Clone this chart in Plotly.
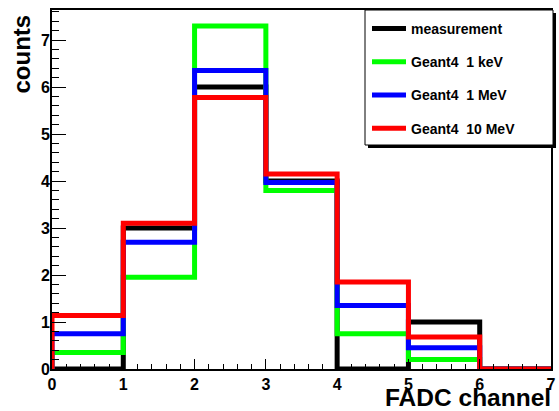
import plotly.graph_objects as go

# FADC channel bins (edges 0..7)
bin_edges = [0, 1, 2, 3, 4, 5, 6, 7]
measurement = [0, 3, 6, 4, 0, 1, 0]
geant4_1keV = [0.35, 1.95, 7.3, 3.8, 0.75, 0.2, 0]
geant4_1MeV = [0.75, 2.7, 6.35, 3.97, 1.35, 0.45, 0]
geant4_10MeV = [1.14, 3.1, 5.78, 4.15, 1.85, 0.68, 0]

series_names = ["measurement", "Geant4  1 keV", "Geant4  1 MeV", "Geant4  10 MeV"]
series_values = [measurement, geant4_1keV, geant4_1MeV, geant4_10MeV]
series_colors = ["#000000", "#00ff00", "#0000ff", "#ff0000"]

W, H = 559, 411
ML, MR, MT, MB = 52, 8, 10, 42
PW, PH = W - ML - MR, H - MT - MB


def px_to_paper_x(px):
    return (px - ML) / PW


def px_to_paper_y(py):
    return (H - MB - py) / PH


fig = go.Figure()
for name, vals, col in zip(series_names, series_values, series_colors):
    xs = [bin_edges[0]] + bin_edges + [bin_edges[-1]]
    ys = [0] + vals + [vals[-1], 0]
    fig.add_trace(go.Scatter(
        x=xs, y=ys, mode="lines", line=dict(color=col, width=5, shape="hv"),
        name=name, legendgroup=name, hoverinfo="skip",
    ))

font_fam = "Liberation Sans, Arial, sans-serif"

# legend box with shadow
fig.add_shape(type="rect", xref="paper", yref="paper",
              x0=px_to_paper_x(368), x1=px_to_paper_x(556),
              y0=px_to_paper_y(148), y1=px_to_paper_y(13),
              fillcolor="black", line=dict(width=0), layer="above")
fig.add_shape(type="rect", xref="paper", yref="paper",
              x0=px_to_paper_x(365), x1=px_to_paper_x(553),
              y0=px_to_paper_y(145), y1=px_to_paper_y(10),
              fillcolor="white", line=dict(color="black", width=1), layer="above")

fig.update_layout(
    width=W, height=H,
    margin=dict(l=ML, r=MR, t=MT, b=MB, autoexpand=False),
    paper_bgcolor="white", plot_bgcolor="white",
    showlegend=True,
    legend=dict(
        x=px_to_paper_x(367), y=px_to_paper_y(13), xanchor="left", yanchor="top",
        bgcolor="rgba(0,0,0,0)", borderwidth=0,
        font=dict(family=font_fam, size=14, color="black", weight="bold"),
        tracegroupgap=12, itemwidth=34,
    ),
    xaxis=dict(
        range=[0, 7], showgrid=False, zeroline=False, automargin=False,
        showline=True, linecolor="black", linewidth=2, mirror=True,
        ticks="inside", ticklen=10, tickwidth=1, tickcolor="black",
        tick0=0, dtick=1,
        minor=dict(ticks="inside", ticklen=5, dtick=0.2, tick0=0, tickcolor="black", showgrid=False),
        tickfont=dict(family=font_fam, size=16, color="black", weight="bold"),
    ),
    yaxis=dict(
        range=[0, 7.64], showgrid=False, zeroline=False, automargin=False,
        showline=True, linecolor="black", linewidth=2, mirror=True,
        ticks="inside", ticklen=14, tickwidth=1, tickcolor="black",
        tick0=0, dtick=1, ticklabelstandoff=-3,
        minor=dict(ticks="inside", ticklen=7, dtick=0.2, tick0=0, tickcolor="black", showgrid=False),
        tickfont=dict(family=font_fam, size=16, color="black", weight="bold"),
    ),
)

fig.add_annotation(text="counts", xref="paper", yref="paper",
                   x=px_to_paper_x(21), y=px_to_paper_y(13),
                   xanchor="center", yanchor="top", textangle=-90, showarrow=False,
                   font=dict(family=font_fam, size=24, color="black", weight="bold"))
fig.add_annotation(text="FADC channel", xref="paper", yref="paper",
                   x=px_to_paper_x(553), y=px_to_paper_y(413),
                   xanchor="right", yanchor="bottom", showarrow=False,
                   font=dict(family=font_fam, size=24.5, color="black", weight="bold"))

fig.write_html("out.html", config={"displayModeBar": False},
               post_script="document.body.style.margin='0px';document.body.style.overflow='hidden';")
